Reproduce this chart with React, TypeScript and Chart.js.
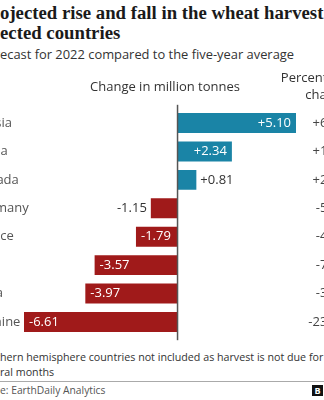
import React, { useEffect, useRef } from "react";
import { Chart, registerables } from "chart.js";
Chart.register(...registerables);

const countries = ["Russia", "China", "Canada", "Germany", "France", "US", "India", "Ukraine"];
const changes = [5.1, 2.34, 0.81, -1.15, -1.79, -3.57, -3.97, -6.61];
const changeLabels = ["+5.10", "+2.34", "+0.81", "-1.15", "-1.79", "-3.57", "-3.97", "-6.61"];
const percentLabels = ["+6.5%", "+1.7%", "+2.6%", "-5.0%", "-4.8%", "-7.1%", "-3.8%", "-23.6%"];

const BLUE = "#1a84a6";
const RED = "#a01a1a";
const SANS = "'Open Sans', 'Noto Sans', sans-serif";

function Clipped(props: { pre: string; rest: string; style: React.CSSProperties }) {
  return (
    <div style={{ position: "absolute", left: 0, whiteSpace: "nowrap", ...props.style }}>
      <span style={{ position: "absolute", right: "100%", top: 0 }}>{props.pre}</span>
      {props.rest}
    </div>
  );
}

const labelPlugin = {
  id: "labelPlugin",
  afterDatasetsDraw(chart: any) {
    const ctx = chart.ctx;
    const xs = chart.scales.x;
    const area = chart.chartArea;
    const meta = chart.getDatasetMeta(0);
    const zero = xs.getPixelForValue(0);
    ctx.save();
    ctx.strokeStyle = "#555";
    ctx.lineWidth = 1.5;
    ctx.beginPath();
    ctx.moveTo(zero, area.top - 4);
    ctx.lineTo(zero, area.bottom + 4);
    ctx.stroke();

    ctx.font = `13px ${SANS}`;
    ctx.textBaseline = "middle";
    meta.data.forEach((el: any, i: number) => {
      const txt = changeLabels[i];
      const w = ctx.measureText(txt).width;
      const len = Math.abs(el.x - el.base);
      const pos = changes[i] >= 0;
      if (len > w + 10) {
        ctx.fillStyle = "#fff";
        ctx.textAlign = pos ? "right" : "left";
        ctx.fillText(txt, pos ? el.x - 5 : el.x + 5, el.y);
      } else {
        ctx.fillStyle = "#333";
        ctx.textAlign = pos ? "left" : "right";
        ctx.fillText(txt, pos ? el.x + 4 : el.x - 4, el.y);
      }
      ctx.fillStyle = "#555";
      ctx.textAlign = "left";
      ctx.fillText(countries[i], -27, el.y);
      ctx.fillStyle = "#444";
      ctx.textAlign = "right";
      ctx.fillText(percentLabels[i], 349, el.y);
    });

    ctx.fillStyle = "#333";
    ctx.textAlign = "center";
    ctx.fillText("Change in million tonnes", 165, 17);
    ctx.textAlign = "right";
    ctx.fillText("Percentage", 349, 8);
    ctx.fillText("change", 349, 25);
    ctx.restore();
  },
};

export default function App() {
  const ref = useRef<HTMLCanvasElement>(null);
  useEffect(() => {
    const chart = new Chart(ref.current!, {
      type: "bar",
      data: {
        labels: countries,
        datasets: [
          {
            data: changes,
            backgroundColor: changes.map((v) => (v >= 0 ? BLUE : RED)),
            borderWidth: 0,
            barPercentage: 0.7,
            categoryPercentage: 1,
          },
        ],
      },
      options: {
        indexAxis: "y",
        animation: false,
        responsive: false,
        devicePixelRatio: 1,
        layout: { padding: { left: 24, right: 28, top: 38.8, bottom: 13.8 } },
        scales: {
          x: { type: "linear", min: -6.61, max: 5.1, display: false },
          y: { type: "category", display: false, offset: true },
        },
        plugins: { legend: { display: false }, tooltip: { enabled: false }, title: { display: false } },
      },
      plugins: [labelPlugin],
    });
    return () => chart.destroy();
  }, []);

  const titleStyle: React.CSSProperties = {
    fontFamily: "'Liberation Serif', serif",
    fontWeight: 700,
    fontSize: 18.75,
    lineHeight: "20px",
    color: "#1a1a1a",
  };
  const noteStyle: React.CSSProperties = { fontFamily: SANS, fontSize: 10.7, lineHeight: "14px", color: "#333" };

  return (
    <div style={{ position: "relative", width: 324, height: 400, overflow: "hidden", background: "#fff" }}>
      <style>{"body{margin:0;overflow:hidden;background:#fff}"}</style>
      <Clipped pre="Pr" rest="ojected rise and fall in the wheat harvest in" style={{ top: 3, ...titleStyle }} />
      <Clipped pre="sel" rest="ected countries" style={{ top: 23, ...titleStyle }} />
      <Clipped
        pre="For"
        rest="ecast for 2022 compared to the five-year average"
        style={{ top: 45, fontFamily: SANS, fontSize: 12.9, lineHeight: "18px", color: "#333" }}
      />
      <canvas ref={ref} width={324} height={280} style={{ position: "absolute", left: 0, top: 70 }} />
      <Clipped
        pre="Sout"
        rest="hern hemisphere countries not included as harvest is not due for"
        style={{ top: 350, ...noteStyle }}
      />
      <Clipped pre="seve" rest="ral months" style={{ top: 365, ...noteStyle }} />
      <div style={{ position: "absolute", left: 0, width: 324, top: 381, height: 1, background: "#aaa" }} />
      <Clipped
        pre="Sourc"
        rest="e: EarthDaily Analytics"
        style={{ top: 383, fontFamily: SANS, fontSize: 10.3, lineHeight: "14px", color: "#555" }}
      />
      <div
        style={{
          position: "absolute",
          left: 312,
          top: 385,
          width: 11,
          height: 11,
          background: "#111",
          color: "#fff",
          fontFamily: SANS,
          fontWeight: 700,
          fontSize: 9,
          lineHeight: "11px",
          textAlign: "center",
        }}
      >
        B
      </div>
    </div>
  );
}
